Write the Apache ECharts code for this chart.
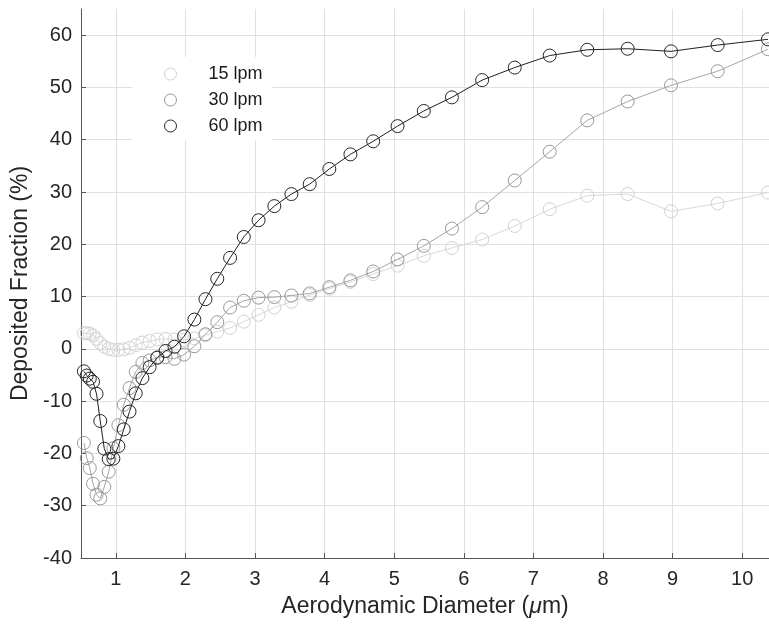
<!DOCTYPE html>
<html>
<head>
<meta charset="utf-8">
<title>Deposited Fraction vs Aerodynamic Diameter</title>
<script src="https://cdn.jsdelivr.net/npm/echarts@6/dist/echarts.min.js"></script>
<style>
  html, body { margin: 0; padding: 0; background: #ffffff; }
  #chart { width: 769px; height: 633px; }
</style>
</head>
<body>
<div id="chart"></div>
<script>
// APS channel midpoints (aerodynamic diameter, µm)
const diameters = [0.542, 0.583, 0.626, 0.673, 0.723, 0.777, 0.835, 0.898, 0.965, 1.037,
  1.114, 1.197, 1.286, 1.382, 1.486, 1.596, 1.715, 1.843, 1.981, 2.129,
  2.288, 2.458, 2.642, 2.839, 3.051, 3.278, 3.523, 3.786, 4.068, 4.371,
  4.698, 5.048, 5.425, 5.829, 6.264, 6.732, 7.234, 7.774, 8.354, 8.977,
  9.647, 10.37];

// Deposited fraction (%) per flow rate
const dep15 = [3.0, 3.0, 2.9, 2.6, 1.9, 1.1, 0.4, 0.0, -0.2, -0.2,
  -0.1, 0.2, 0.7, 1.2, 1.5, 1.8, 1.9, 1.8, 1.7, 2.0,
  2.6, 3.3, 4.0, 5.2, 6.5, 7.9, 9.0, 10.3, 11.5, 12.8,
  14.3, 15.9, 17.8, 19.3, 20.9, 23.5, 26.7, 29.3, 29.6, 26.3,
  27.8, 29.9];
const dep30 = [-18.0, -20.9, -22.8, -25.8, -27.9, -28.6, -26.4, -23.5, -19.0, -14.6,
  -10.7, -7.5, -4.4, -2.7, -2.2, -1.6, -1.6, -1.9, -1.1, 0.5,
  2.8, 5.1, 7.9, 9.2, 9.8, 9.9, 10.2, 10.6, 11.8, 13.1,
  14.8, 17.1, 19.7, 23.0, 27.1, 32.2, 37.7, 43.7, 47.3, 50.4,
  53.1, 57.3];
const dep60 = [-4.3, -5.1, -5.7, -6.3, -8.6, -13.8, -19.1, -21.1, -21.0, -18.6,
  -15.4, -12.0, -8.5, -5.6, -3.5, -1.7, -0.4, 0.4, 2.4, 5.6,
  9.5, 13.4, 17.4, 21.4, 24.6, 27.3, 29.6, 31.5, 34.4, 37.2,
  39.7, 42.6, 45.5, 48.1, 51.4, 53.8, 56.1, 57.2, 57.4, 56.9,
  58.1, 59.2];

const seriesNames = ['15 lpm', '30 lpm', '60 lpm'];
const markerColors = ['#d2d2d2', '#999999', '#262626'];
const lineColors = ['#d9d9d9', '#a6a6a6', '#1f1f1f'];
const xTicks = [1, 2, 3, 4, 5, 6, 7, 8, 9, 10];
const yTicks = [-40, -30, -20, -10, 0, 10, 20, 30, 40, 50, 60];

const FONT = '"Liberation Sans", Arial, Helvetica, sans-serif';

function pairs(ys) {
  return diameters.map((d, i) => [d, ys[i]]);
}

// hollow, thin-edged circle markers joined by a thin line
function lineSeries(idx, ys, z) {
  return {
    name: seriesNames[idx],
    type: 'line',
    data: pairs(ys),
    z: z,
    symbol: 'circle',
    symbolSize: 13,
    showAllSymbol: true,
    clip: false,
    lineStyle: { color: lineColors[idx], width: 1 },
    itemStyle: { color: 'rgba(255,255,255,0)', borderColor: markerColors[idx], borderWidth: 1 },
    emphasis: { disabled: true },
    animation: false
  };
}

const chart = echarts.init(document.getElementById('chart'), null, { renderer: 'canvas' });

chart.setOption({
  backgroundColor: '#ffffff',
  animation: false,
  grid: { left: 81, top: 9, right: 0, bottom: 75, containLabel: false },
  legend: {
    orient: 'vertical',
    left: 132,
    top: 57,
    padding: [8, 10, 5, 32],
    backgroundColor: '#ffffff',
    itemWidth: 12,
    itemHeight: 12,
    itemGap: 8,
    icon: 'circle',
    itemStyle: { color: 'rgba(255,255,255,0)', borderWidth: 1, borderColor: 'inherit' },
    textStyle: { fontFamily: FONT, fontSize: 18, color: '#1a1a1a', lineHeight: 17, padding: [0, 0, 0, 27] },
    data: seriesNames
  },
  xAxis: {
    type: 'value',
    min: 0.5,
    max: 10.385,
    name: 'Aerodynamic Diameter ({mu|\u03bc}m)',
    nameLocation: 'middle',
    nameGap: 37,
    nameTextStyle: {
      fontFamily: FONT, fontSize: 23, color: '#262626',
      rich: { mu: { fontFamily: FONT, fontSize: 23, fontStyle: 'italic', color: '#262626' } }
    },
    axisLine: { show: true, onZero: false, lineStyle: { color: '#555555', width: 1 } },
    axisTick: { show: true, inside: true, length: 5, customValues: xTicks, lineStyle: { color: '#555555' } },
    axisLabel: { customValues: xTicks, fontFamily: FONT, fontSize: 20, color: '#262626', margin: 11 },
    splitLine: { show: true, lineStyle: { color: '#e0e0e0', width: 1 } }
  },
  yAxis: {
    type: 'value',
    min: -40,
    max: 65,
    name: 'Deposited Fraction (%)',
    nameLocation: 'middle',
    nameGap: 44,
    nameTextStyle: { fontFamily: FONT, fontSize: 23, color: '#262626' },
    axisLine: { show: true, onZero: false, lineStyle: { color: '#555555', width: 1 } },
    axisTick: { show: true, inside: true, length: 5, customValues: yTicks, lineStyle: { color: '#555555' } },
    axisLabel: { customValues: yTicks, fontFamily: FONT, fontSize: 20, color: '#262626', margin: 9 },
    splitLine: { show: true, lineStyle: { color: '#e0e0e0', width: 1 } }
  },
  series: [
    lineSeries(0, dep15, 2),
    lineSeries(1, dep30, 3),
    lineSeries(2, dep60, 4)
  ]
});
</script>
</body>
</html>
